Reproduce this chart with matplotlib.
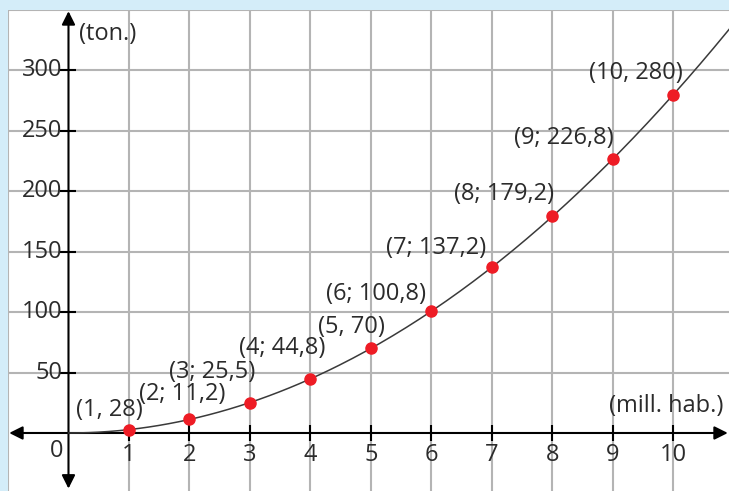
import numpy as np
import matplotlib.pyplot as plt

# data
habitants = [1, 2, 3, 4, 5, 6, 7, 8, 9, 10]
tons = [2.8, 11.2, 25.2, 44.8, 70, 100.8, 137.2, 179.2, 226.8, 280]
point_labels = ['(1, 28)', '(2; 11,2)', '(3; 25,5)', '(4; 44,8)', '(5, 70)',
                '(6; 100,8)', '(7; 137,2)', '(8; 179,2)', '(9; 226,8)', '(10, 280)']
label_offsets = [(-20, 20), (-7, 25), (-38, 31), (-28, 31), (-19, 21),
                 (-55, 17), (-56, 19), (-48, 22), (-49, 21), (-37, 22)]
x_ticks = [1, 2, 3, 4, 5, 6, 7, 8, 9, 10]
y_ticks = [50, 100, 150, 200, 250, 300]

txt = '#2b2b2b'
font = ['Open Sans', 'DejaVu Sans']
fs = 17

fig = plt.figure(figsize=(7.29, 4.91), dpi=100)
fig.patch.set_facecolor('#d4edf9')
ax = fig.add_axes([8 / 729, 0, 721 / 729, 481 / 491])
ax.set_facecolor('white')
ax.set_xlim(-1, 10.92)
ax.set_ylim(-48, 350)

# grid
for gx in range(-1, 11):
    if gx != 0:
        ax.axvline(gx, color='#b4b4b4', lw=1.5, zorder=1)
for gy in range(50, 351, 50):
    ax.axhline(gy, color='#b4b4b4', lw=1.5, zorder=1)
for s in ax.spines.values():
    s.set_visible(False)
ax.set_xticks([])
ax.set_yticks([])

# axes with arrows
ax.annotate('', xy=(-0.98, 0), xytext=(10.9, 0),
            arrowprops=dict(arrowstyle='<|-|>', color='black', lw=1.5, mutation_scale=20,
                            shrinkA=0, shrinkB=0), zorder=3)
ax.annotate('', xy=(0, 349), xytext=(0, -46),
            arrowprops=dict(arrowstyle='<|-|>', color='black', lw=1.5, mutation_scale=20,
                            shrinkA=0, shrinkB=0), zorder=3)
ax.plot(x_ticks, [0] * len(x_ticks), ls='none', marker='|', ms=11, mew=1.5, color='black', zorder=3)
ax.plot([0] * len(y_ticks), y_ticks, ls='none', marker='_', ms=11, mew=1.5, color='black', zorder=3)

for xv in x_ticks:
    ax.text(xv, -18, str(xv), ha='center', va='center', fontsize=fs, color=txt, family=font)
for yv in y_ticks:
    ax.text(-0.1, yv, str(yv), ha='right', va='center', fontsize=fs, color=txt, family=font)
ax.text(-0.2, -15, '0', ha='center', va='center', fontsize=fs, color=txt, family=font)
ax.text(0.18, 330, '(ton.)', ha='left', va='center', fontsize=fs, color=txt, family=font)
ax.text(10.82, 22, '(mill. hab.)', ha='right', va='center', fontsize=fs, color=txt, family=font)

# smooth curve fitted through the points
coef = np.polyfit(habitants, tons, 2)
xs = np.linspace(0, 11, 200)
ax.plot(xs, np.polyval(coef, xs), color='#3a3a3a', lw=1.1, zorder=4)

ax.plot(habitants, tons, 'o', color='#ee1c25', ms=8, zorder=5)
for xv, yv, lab, off in zip(habitants, tons, point_labels, label_offsets):
    ax.annotate(lab, (xv, yv), xytext=off, textcoords='offset pixels',
                ha='center', va='center', fontsize=fs, color=txt, family=font, zorder=6)

fig.savefig('out.png', dpi=100, facecolor=fig.get_facecolor())
